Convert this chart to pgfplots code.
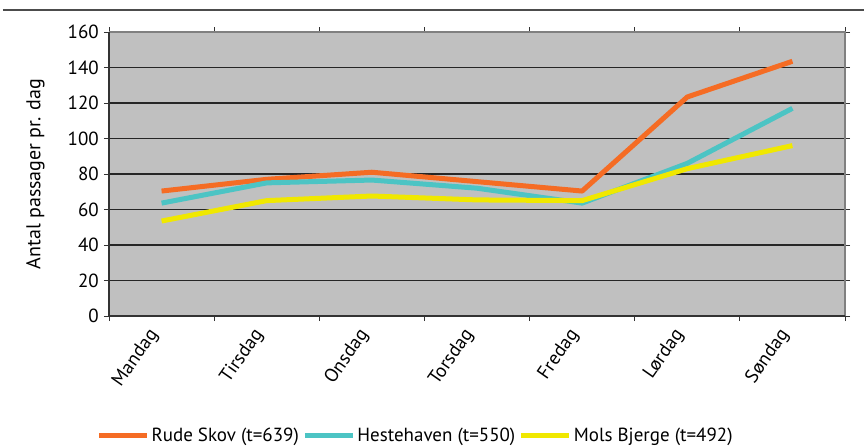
\documentclass[border=0pt]{standalone}
\usepackage{pgfplots}
\pgfplotsset{compat=1.18}
\usepackage{fontspec}
\setmainfont{PT Sans}
\definecolor{rude}{RGB}{245,108,36}
\definecolor{heste}{RGB}{76,196,196}
\definecolor{mols}{RGB}{240,232,0}
\definecolor{bg}{RGB}{192,192,192}
\begin{document}
\begin{tikzpicture}[x=1pt,y=1pt]
\useasboundingbox (-109,-129) rectangle (755,316);
\draw[line width=1.6pt, black!70] (-106,306) -- (755,306);
\begin{axis}[
    at={(0,0)}, anchor=south west,
    scale only axis,
    width=736pt, height=284pt,
    /pgf/number format/assume math mode=true,
    tick label style={font=\fontsize{19}{21}\selectfont},
    label style={font=\fontsize{20}{22}\selectfont},
    xmin=-0.5, xmax=6.5,
    ymin=0, ymax=160,
    ytick={0,20,...,160},
    xtick={-0.5,0.5,...,6.5},
    xticklabels={},
    extra x ticks={0,1,2,3,4,5,6},
    extra x tick labels={Mandag,Tirsdag,Onsdag,Torsdag,Fredag,Lørdag,Søndag},
    extra x tick style={major tick length=0pt, grid=none,
        xticklabel style={xshift=-6pt, yshift=-14pt, rotate=55, anchor=east, inner sep=2pt}},
    tick align=outside,
    major tick length=5pt,
    tick style={black!80, line width=0.8pt},
    ymajorgrids=true,
    grid style={black!85, line width=1.1pt},
    axis background/.style={fill=bg},
    axis line style={draw=none},
    yticklabel style={inner sep=2pt, xshift=-3pt},
    ylabel={Antal passager pr. dag},
    ylabel style={at={(axis description cs:-0.100,0.5)}, anchor=center},
    legend columns=3,
    legend style={at={(axis description cs:-0.017,-0.419)}, anchor=west,
        draw=none, fill=none, inner xsep=0pt, inner ysep=0pt,
        font=\fontsize{19}{21}\selectfont,
        nodes={inner sep=2pt},
        /tikz/every even column/.append style={column sep=1.5pt}},
    legend image code/.code={\draw[#1, line width=5pt] (0pt,0pt) -- (48pt,0pt);},
    every axis plot/.append style={line width=5pt, line join=round},
    clip=false,
]
\draw[black!50, line width=1.2pt] (rel axis cs:0,1) -- (rel axis cs:1,1) -- (rel axis cs:1,0);
\draw[black!80, line width=1.2pt] (rel axis cs:0,1) -- (rel axis cs:0,0) -- (rel axis cs:1,0);
\addplot[rude] coordinates {
    (0,70.4)(1,77)(2,81)(3,75.7)(4,70.4)(5,123.4)(6,143.5)
};
\addplot[heste] coordinates {
    (0,63.6)(1,75)(2,76.6)(3,72)(4,63.6)(5,86)(6,117)
};
\addplot[mols] coordinates {
    (0,53.5)(1,65)(2,67.6)(3,65.4)(4,65)(5,83)(6,96)
};
\legend{Rude Skov (t=639), Hestehaven (t=550), Mols Bjerge (t=492)}
\end{axis}
\end{tikzpicture}
\end{document}
